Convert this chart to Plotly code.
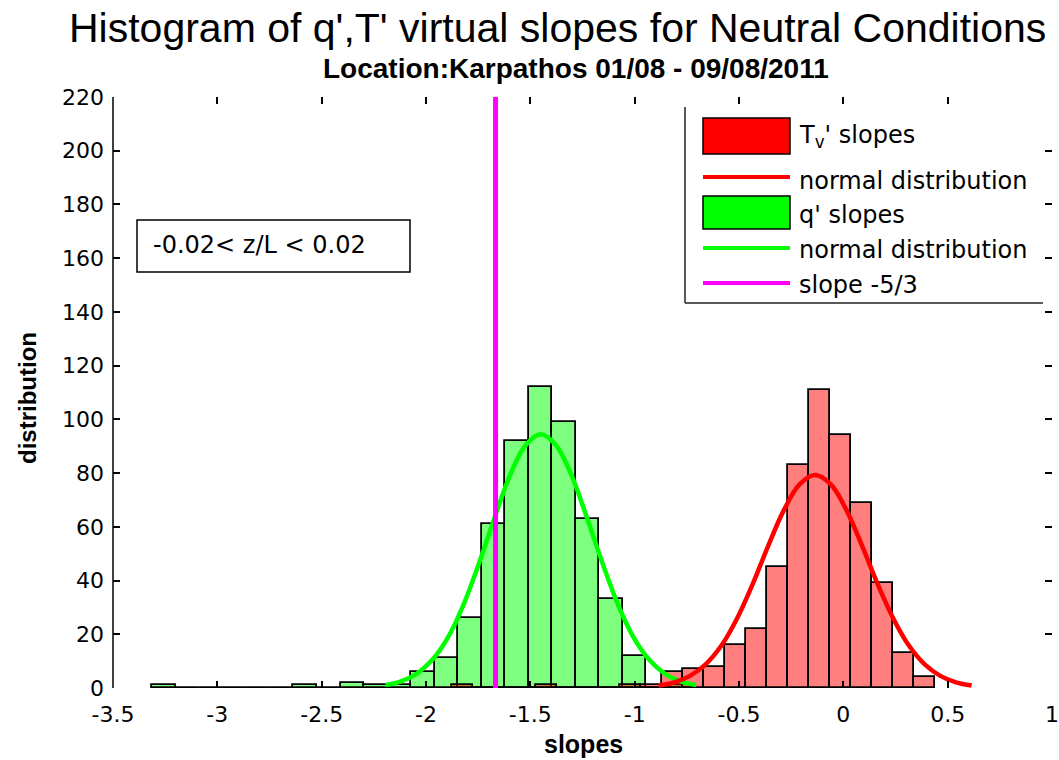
import plotly.graph_objects as go

# ---------------- data ----------------
green_centers = [-3.256, -3.143, -3.030, -2.917, -2.805, -2.692, -2.579, -2.466,
                 -2.353, -2.240, -2.128, -2.015, -1.902, -1.789, -1.677, -1.564,
                 -1.451, -1.338, -1.225, -1.113, -1.000, -0.887, -0.774]
green_counts = [1, 0, 0, 0, 0, 0, 1, 0, 2, 1, 1, 6, 11, 26, 61, 92,
                112, 99, 63, 33, 12, 0, 1]
green_bin_width = 0.1128

red_centers = [-1.827, -1.726, -1.625, -1.525, -1.424, -1.323, -1.222, -1.122,
               -1.021, -0.920, -0.819, -0.718, -0.618, -0.517, -0.416, -0.315,
               -0.214, -0.114, -0.013, 0.088, 0.189, 0.290, 0.390]
red_counts = [1, 0, 0, 0, 1, 0, 0, 0, 1, 1, 6, 7, 8, 16, 22, 45,
              83, 111, 94, 69, 39, 13, 4]
red_bin_width = 0.1008

green_fit_x = [-2.194, -2.120, -2.045, -1.971, -1.896, -1.822, -1.748, -1.673,
               -1.599, -1.524, -1.450, -1.376, -1.301, -1.227, -1.152, -1.078,
               -1.004, -0.929, -0.855, -0.780, -0.706]
green_fit_y = [1.1, 2.5, 5.3, 10.4, 18.7, 30.7, 46.0, 63.0, 78.9, 90.3, 94.5,
               90.3, 78.9, 63.0, 46.0, 30.7, 18.7, 10.4, 5.3, 2.5, 1.1]

red_fit_x = [-0.885, -0.810, -0.735, -0.660, -0.585, -0.510, -0.435, -0.360,
             -0.285, -0.210, -0.135, -0.060, 0.015, 0.090, 0.165, 0.240,
             0.315, 0.390, 0.465, 0.540, 0.615]
red_fit_y = [0.9, 2.1, 4.5, 8.8, 15.7, 25.8, 38.6, 52.9, 66.2, 75.8, 79.3,
             75.8, 66.2, 52.9, 38.6, 25.8, 15.7, 8.8, 4.5, 2.1, 0.9]

slope_ref = -5 / 3

x_tick_vals = [-3.5, -3, -2.5, -2, -1.5, -1, -0.5, 0, 0.5, 1]
x_tick_text = ["-3.5", "-3", "-2.5", "-2", "-1.5", "-1", "-0.5", "0", "0.5", "1"]
y_tick_vals = [0, 20, 40, 60, 80, 100, 120, 140, 160, 180, 200, 220]
y_tick_text = ["0", "20", "40", "60", "80", "100", "120", "140", "160", "180", "200", "220"]

title_text = "Histogram of q',T' virtual slopes for Neutral Conditions"
subtitle_text = "Location:Karpathos 01/08 - 09/08/2011"
box_text = "-0.02< z/L < 0.02"
legend_labels = ["T<sub>v</sub>' slopes", "normal distribution", "q' slopes",
                 "normal distribution", "slope -5/3"]

# ---------------- layout helpers (pixel -> paper) ----------------
W, H = 1059, 760
L, R, T, B = 113, 1052, 97, 688


def px(x):
    return (x - L) / (R - L)


def py(y):
    return (B - y) / (B - T)


TEXT_FONT = "DejaVu Sans, Verdana, sans-serif"
TITLE_FONT = "Liberation Sans, Arial, sans-serif"

fig = go.Figure()

fig.add_trace(go.Bar(x=green_centers, y=green_counts, width=[green_bin_width] * len(green_centers),
                     marker=dict(color="rgba(0,255,0,0.5)", line=dict(color="black", width=1.8)),
                     name="q' slopes", showlegend=False))
fig.add_trace(go.Bar(x=red_centers, y=red_counts, width=[red_bin_width] * len(red_centers),
                     marker=dict(color="rgba(255,0,0,0.5)", line=dict(color="black", width=1.8)),
                     name="Tv' slopes", showlegend=False))
fig.add_trace(go.Scatter(x=green_fit_x, y=green_fit_y, mode="lines",
                         line=dict(color="#00ff00", width=4.5, shape="spline"),
                         name="normal distribution", showlegend=False))
fig.add_trace(go.Scatter(x=red_fit_x, y=red_fit_y, mode="lines",
                         line=dict(color="#ff0000", width=4.5, shape="spline"),
                         name="normal distribution", showlegend=False))
fig.add_trace(go.Scatter(x=[slope_ref, slope_ref], y=[0, 220], mode="lines",
                         line=dict(color="#ff00ff", width=5),
                         name="slope -5/3", showlegend=False))

shapes = []
annotations = []

# left axis line
shapes.append(dict(type="line", xref="paper", yref="paper", x0=0, x1=0, y0=0, y1=1,
                   line=dict(color="black", width=1.5)))

# text box
shapes.append(dict(type="rect", xref="paper", yref="paper",
                   x0=px(137), x1=px(410), y0=py(272), y1=py(220),
                   line=dict(color="black", width=1.5), fillcolor="white"))
annotations.append(dict(xref="paper", yref="paper", x=px(151), y=py(245), text=box_text,
                        showarrow=False, xanchor="left", yanchor="middle",
                        font=dict(family=TEXT_FONT, size=24, color="black")))

# legend box
shapes.append(dict(type="rect", xref="paper", yref="paper",
                   x0=px(685), x1=px(1043), y0=py(303), y1=py(107),
                   line=dict(width=0), fillcolor="white"))
shapes.append(dict(type="line", xref="paper", yref="paper", x0=px(685), x1=px(685),
                   y0=py(303), y1=py(107), line=dict(color="#222", width=1.5)))
shapes.append(dict(type="line", xref="paper", yref="paper", x0=px(685), x1=px(1043),
                   y0=py(303), y1=py(303), line=dict(color="#222", width=1.5)))
# legend swatches
shapes.append(dict(type="rect", xref="paper", yref="paper", x0=px(703), x1=px(790),
                   y0=py(154), y1=py(118), fillcolor="#ff0000", line=dict(color="black", width=1.5)))
shapes.append(dict(type="line", xref="paper", yref="paper", x0=px(703), x1=px(790),
                   y0=py(177), y1=py(177), line=dict(color="#ff0000", width=4)))
shapes.append(dict(type="rect", xref="paper", yref="paper", x0=px(703), x1=px(790),
                   y0=py(229), y1=py(196), fillcolor="#00ff00", line=dict(color="black", width=1.5)))
shapes.append(dict(type="line", xref="paper", yref="paper", x0=px(703), x1=px(790),
                   y0=py(248), y1=py(248), line=dict(color="#00ff00", width=4)))
shapes.append(dict(type="line", xref="paper", yref="paper", x0=px(703), x1=px(790),
                   y0=py(283), y1=py(283), line=dict(color="#ff00ff", width=4)))
legend_y = [136, 181, 215, 250, 285]
for lab, yy in zip(legend_labels, legend_y):
    annotations.append(dict(xref="paper", yref="paper", x=px(797), y=py(yy), text=lab,
                            showarrow=False, xanchor="left", yanchor="middle",
                            font=dict(family=TEXT_FONT, size=24, color="black")))

# titles
annotations.append(dict(xref="paper", yref="paper", x=px(557), y=py(28), text=title_text,
                        showarrow=False, xanchor="center", yanchor="middle",
                        font=dict(family=TITLE_FONT, size=41, color="black")))
annotations.append(dict(xref="paper", yref="paper", x=px(576), y=py(68), text="<b>" + subtitle_text + "</b>",
                        showarrow=False, xanchor="center", yanchor="middle",
                        font=dict(family=TITLE_FONT, size=28, color="black")))
annotations.append(dict(xref="paper", yref="paper", x=px(583), y=py(744), text="<b>slopes</b>",
                        showarrow=False, xanchor="center", yanchor="middle",
                        font=dict(family=TITLE_FONT, size=25, color="black")))
annotations.append(dict(xref="paper", yref="paper", x=px(28), y=py(398), text="<b>distribution</b>",
                        showarrow=False, xanchor="center", yanchor="middle", textangle=-90,
                        font=dict(family=TITLE_FONT, size=24, color="black")))

fig.update_layout(
    width=W, height=H,
    margin=dict(l=L, r=W - R, t=T, b=H - B, pad=0, autoexpand=False),
    paper_bgcolor="white", plot_bgcolor="white",
    barmode="overlay", bargap=0,
    showlegend=False,
    shapes=shapes, annotations=annotations,
    xaxis=dict(range=[-3.5, 1], tickvals=x_tick_vals, ticktext=x_tick_text,
               ticks="inside", ticklen=7, tickwidth=1.5, tickcolor="black",
               mirror="ticks", showline=False, showgrid=False, zeroline=False,
               automargin=False,
               tickfont=dict(family=TEXT_FONT, size=22, color="black"),
               ticklabelstandoff=11),
    yaxis=dict(range=[0, 220], tickvals=y_tick_vals, ticktext=y_tick_text,
               ticks="inside", ticklen=7, tickwidth=1.5, tickcolor="black",
               mirror="ticks", showline=False, showgrid=False, zeroline=False,
               automargin=False,
               tickfont=dict(family=TEXT_FONT, size=22, color="black"),
               ticklabelstandoff=8),
)

fig.write_html("out.html")
